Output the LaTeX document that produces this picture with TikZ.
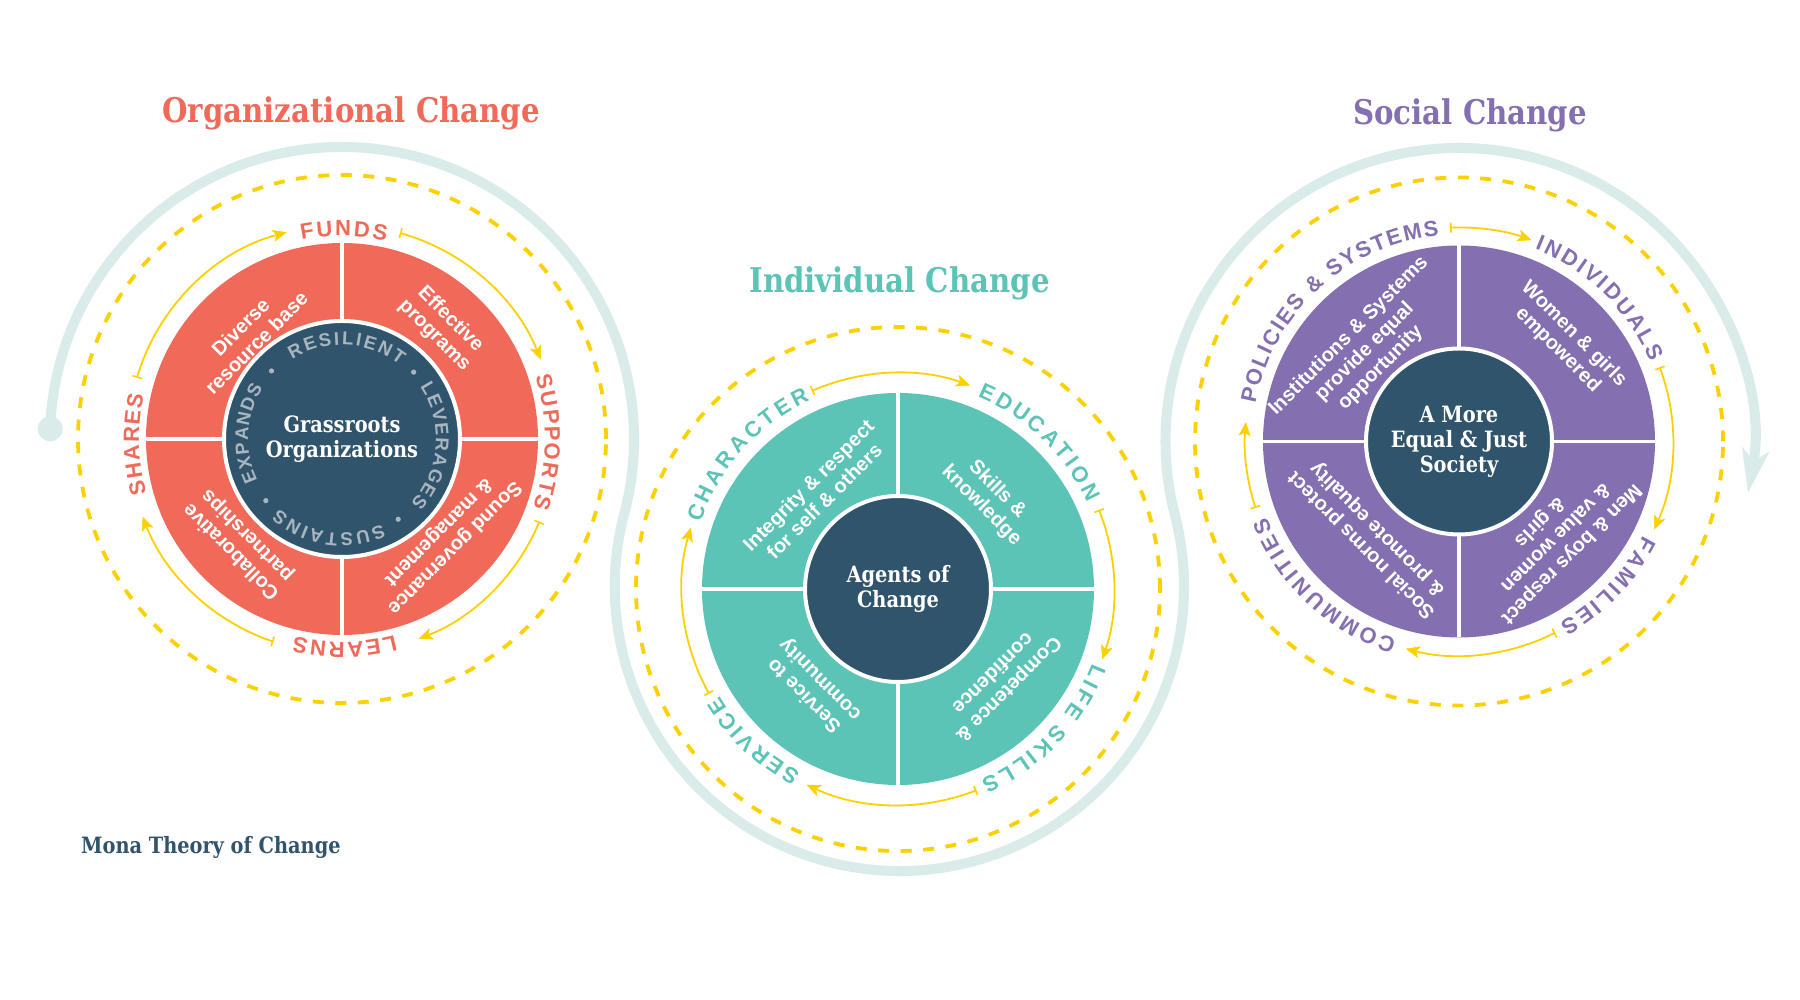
\documentclass[tikz,border=0pt]{standalone}
\usepackage{fontspec}
\usetikzlibrary{arrows.meta,decorations.text,calc}
\newfontfamily\slabfont{DejaVu Serif}[FakeStretch=0.86]
\newfontfamily\lblfam{Liberation Sans}
\definecolor{cCoral}{HTML}{F16A59}
\definecolor{cTeal}{HTML}{5CC4B7}
\definecolor{cPurple}{HTML}{846FB0}
\definecolor{cNavy}{HTML}{30546C}
\definecolor{cYellow}{HTML}{FDD000}
\definecolor{cSpiral}{HTML}{DAECEA}
\definecolor{cGrey}{HTML}{A9B5BF}
\newcommand\lblL{\lblfam\bfseries\fontsize{22}{26}\selectfont\color{cCoral}}
\newcommand\lblM{\lblfam\bfseries\fontsize{22}{26}\selectfont\color{cTeal}}
\newcommand\lblR{\lblfam\bfseries\fontsize{22}{26}\selectfont\color{cPurple}}
\newcommand\lblI{\lblfam\bfseries\fontsize{18.5}{20}\selectfont\color{cGrey}}
% ring text along a clockwise arc: center, start, end, radius, format, text
\newcommand\ringtext[6]{%
  \path[decorate, decoration={text along path, text align=fit to path, text={|#5|#6}}]
    ($(#1)+(#2:#4)$) arc[start angle=#2, end angle=#3, radius=#4pt];}
% cycle arrow: center, start, end, radius
\newcommand\cycarrow[4]{%
  \draw[cyclearrow] ($(#1)+(#2:#4)$) arc[start angle=#2, end angle=#3, radius=#4pt];}
\tikzset{
  spiral/.style={draw=cSpiral, line width=10pt},
  dashring/.style={draw=cYellow, line width=3.8pt, dash pattern=on 11pt off 11.5pt},
  cyclearrow/.style={draw=cYellow, line width=1.8pt,
    arrows={Bar[width=10pt,line width=1.6pt]-Stealth[length=14pt,width=12pt,inset=3.5pt,line width=0.5pt]}},
  wedgetxt/.style={text=white, font=\lblfam\bfseries\fontsize{20}{22.5}\selectfont, align=center, inner sep=0pt},
  centertxt/.style={text=white, font=\slabfont\bfseries\fontsize{22.5}{25}\selectfont, align=center, inner sep=0pt},
  ttl/.style={font=\slabfont\bfseries\fontsize{34}{40}\selectfont, inner sep=0pt, anchor=base},
  crossline/.style={draw=white, line width=3.5pt},
  hub/.style={fill=cNavy, draw=white, line width=4pt},
}
\begin{document}
\begin{tikzpicture}[x=1pt,y=1pt]
\useasboundingbox (0,0) rectangle (1800,1000);
\fill[white] (0,0) rectangle (1800,1000);
\coordinate (L) at (342,561);
\coordinate (M) at (898,411);
\coordinate (R) at (1459,558.5);
\coordinate (S0) at ($(L)+(178:292)$);

% spiral
\draw[spiral, -{Stealth[length=44pt,width=28pt,inset=12pt,line width=0.5pt]}]
  (S0) arc[start angle=178, end angle=-14.81, radius=292pt]
  arc[start angle=165.19, end angle=374.52, radius=284.6pt]
  arc[start angle=194.52, end angle=-10, radius=293.5pt];
\fill[cSpiral] (S0) circle[radius=12.5pt];

% dashed rings
\draw[dashring] (L) circle[radius=264pt];
\draw[dashring] (M) circle[radius=262pt];
\draw[dashring] (R) circle[radius=264pt];

% discs
\fill[cCoral] (L) circle[radius=196pt];
\fill[cTeal] (M) circle[radius=196pt];
\fill[cPurple] (R) circle[radius=196pt];
\foreach \c in {L,M,R}{
  \draw[crossline] ($(\c)+(0,196)$) -- ($(\c)+(0,-196)$);
  \draw[crossline] ($(\c)+(-196,0)$) -- ($(\c)+(196,0)$);
}
\draw[hub] (L) circle[radius=118pt];
\draw[hub] (M) circle[radius=93pt];
\draw[hub] (R) circle[radius=93pt];

% center texts
\node[centertxt] (c1) at (L) {Grassroots\\Organizations};
\node[centertxt] (c2) at (M) {Agents of\\Change};
\node[centertxt] (c3) at (R) {A More\\Equal \& Just\\Society};

% inner words
\ringtext{L}{122}{52}{94}{\lblI}{RESILIENT}
\ringtext{L}{34}{-43}{94}{\lblI}{LEVERAGES}
\ringtext{L}{-65}{-132}{94}{\lblI}{SUSTAINS}
\ringtext{L}{206}{147}{94}{\lblI}{EXPANDS}
\foreach \a in {136,43,-55,-141}{\fill[cGrey] ($(L)+(\a:98)$) circle[radius=2.6pt];}

% wedge texts
\node[wedgetxt, rotate=45] (l1) at ($(L)+(132:140)$) {Diverse\\resource base};
\node[wedgetxt, rotate=-45] (l2) at ($(L)+(48:150)$) {Effective\\programs};
\node[wedgetxt, rotate=-135] (l3) at ($(L)+(-44:145)$) {Sound governance\\\& management};
\node[wedgetxt, rotate=135] (l4) at ($(L)+(-134.5:146)$) {Collaborative\\partnerships};

\node[wedgetxt, rotate=45] (m1) at ($(M)+(130.5:126)$) {Integrity \& respect\\for self \& others};
\node[wedgetxt, rotate=-45] (m2) at ($(M)+(45:129)$) {Skills \&\\knowledge};
\node[wedgetxt, rotate=-135] (m3) at ($(M)+(-42:139)$) {Competence \&\\confidence};
\node[wedgetxt, rotate=135] (m4) at ($(M)+(-131:130)$) {Service to\\community};

\node[wedgetxt, rotate=45] (r1) at ($(R)+(136.5:130)$) {Institutions \& Systems\\provide equal\\opportunity};
\node[wedgetxt, rotate=-45] (r2) at ($(R)+(43:146)$) {Women \& girls\\empowered};
\node[wedgetxt, rotate=-135] (r3) at ($(R)+(-45:136)$) {Men \& boys respect\\\& value women\\\& girls};
\node[wedgetxt, rotate=135] (r4) at ($(R)+(-133:131)$) {Social norms protect\\\& promote equality};

% ring labels
\ringtext{L}{101.5}{77.5}{203}{\lblL}{FUNDS}
\ringtext{L}{17.8}{-19.8}{203}{\lblL}{SUPPORTS}
\ringtext{L}{-75}{-103.5}{203}{\lblL}{LEARNS}
\ringtext{L}{195.5}{167.5}{203}{\lblL}{SHARES}

\ringtext{M}{161.5}{115}{208}{\lblM}{CHARACTER}
\ringtext{M}{67.5}{24.5}{208}{\lblM}{EDUCATION}
\ringtext{M}{-21}{-66.5}{208}{\lblM}{LIFE SKILLS}
\ringtext{M}{-118}{-149}{208}{\lblM}{SERVICE}

\ringtext{R}{169.5}{95.5}{207}{\lblR}{POLICIES {\&} SYSTEMS}
\ringtext{R}{68.5}{22.5}{207}{\lblR}{INDIVIDUALS}
\ringtext{R}{-27}{-61}{207}{\lblR}{FAMILIES}
\ringtext{R}{-107.5}{-158.5}{207}{\lblR}{COMMUNITIES}

% cycle arrows
\cycarrow{L}{163.4}{105}{214}
\cycarrow{L}{74.3}{21.8}{214}
\cycarrow{L}{-22.7}{-69}{214}
\cycarrow{L}{-108.7}{-158.7}{214}

\cycarrow{M}{113.5}{70.5}{216}
\cycarrow{M}{21.5}{-19}{216}
\cycarrow{M}{-68.7}{-115}{216}
\cycarrow{M}{-151}{-196.5}{216}

\cycarrow{R}{92.4}{70.2}{214}
\cycarrow{R}{20.3}{-24.3}{214}
\cycarrow{R}{-63.3}{-104.4}{214}
\cycarrow{R}{-161.9}{-185.2}{214}

% titles
\node[ttl, text=cCoral] (t1) at (351,877) {Organizational Change};
\node[ttl, text=cTeal] (t2) at (899.5,707) {Individual Change};
\node[ttl, text=cPurple] (t3) at (1470,875) {Social Change};
\node[font=\slabfont\bfseries\fontsize{22.5}{26}\selectfont, text=cNavy, anchor=base west, inner sep=0pt] (t4) at (81,146) {Mona Theory of Change};
\end{tikzpicture}
\end{document}
